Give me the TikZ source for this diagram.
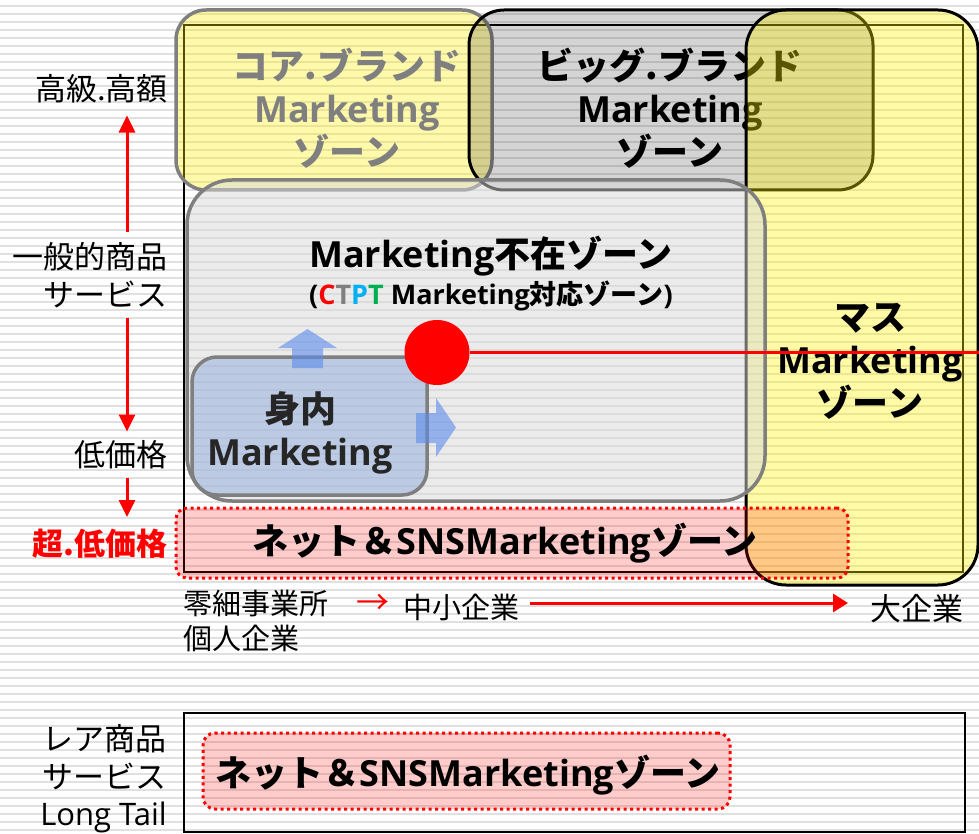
\documentclass[tikz,border=0pt]{standalone}
\usepackage{fontspec}
\setmainfont{Noto Sans CJK JP}
\newfontfamily\lat{Open Sans}
\usetikzlibrary{arrows.meta}
\definecolor{bordergray}{HTML}{7F7F7F}
\definecolor{stripecol}{HTML}{E0E0E0}
\definecolor{ctpblue}{HTML}{00B0F0}
\definecolor{ctpgreen}{HTML}{00B050}
\definecolor{uchiblue}{HTML}{8FAADC}
\definecolor{arrowblue}{HTML}{5B8BEB}
\begin{document}
\begin{tikzpicture}[x=1pt,y=-1pt,
  zone/.style={inner sep=0pt, outer sep=0pt},
  graybox/.style={zone, draw=bordergray, line width=3.5pt},
  blackbox/.style={zone, draw=black, line width=3pt},
  netbox/.style={zone, draw=red, line width=3pt, dash pattern=on 3pt off 3.5pt, fill=red, fill opacity=0.2, rounded corners=11pt},
  title/.style={inner sep=0pt, font=\bfseries\fontsize{36}{43}\selectfont, align=center},
  axislbl/.style={inner sep=0pt, font=\fontsize{31}{38}\selectfont, align=right, anchor=east},
  botlbl/.style={inner sep=0pt, font=\fontsize{29}{35}\selectfont, align=left, anchor=west},
  redarr/.style={draw=red, line width=3pt, -{Triangle[length=17pt,width=16pt]}},
  stripeline/.style={draw=stripecol, line width=2.5pt},
  bluearrow/.style={fill=arrowblue, fill opacity=0.6}
]
\useasboundingbox (0,0) rectangle (979,834);
\fill[white] (0,0) rectangle (979,834);
\foreach \yy in {6,14,...,830} \draw[stripeline] (0,\yy) -- (979,\yy);

% main frame
\node[zone, draw=black, line width=2pt, minimum width=779pt, minimum height=547pt] (frame) at (573.5,298.5) {};

% core brand
\node[graybox, fill=yellow, fill opacity=0.33, rounded corners=30pt, minimum width=316pt, minimum height=180pt] (core) at (334,100) {};
\node[title, text=bordergray] (coretxt) at (347,108) {コア.ブランド\\{\lat Marketing}\\ゾーン};

% big brand
\node[blackbox, fill=black, fill opacity=0.17, rounded corners=35pt, minimum width=404pt, minimum height=180pt] (big) at (671,100) {};
\node[title] (bigtxt) at (670,108) {ビッグ.ブランド\\{\lat Marketing}\\ゾーン};

% mass
\node[blackbox, fill=yellow, fill opacity=0.35, rounded corners=40pt, minimum width=232pt, minimum height=575pt] (mass) at (862,297.5) {};

% absent zone
\node[graybox, fill=black!15, fill opacity=0.5, rounded corners=45pt, minimum width=578pt, minimum height=321pt] (absent) at (476,340.5) {};

% uchi
\node[graybox, fill=uchiblue, fill opacity=0.5, rounded corners=25pt, minimum width=235pt, minimum height=138pt] (uchi) at (309.5,426) {};

% blue arrows
\fill[bluearrow] (292,368) -- (292,348) -- (278,348) -- (307.5,329) -- (337,348) -- (323,348) -- (323,368) -- cycle;
\fill[bluearrow] (416,413) -- (436,413) -- (436,398) -- (456,427.5) -- (436,457) -- (436,443) -- (416,443) -- cycle;

% net zone (main)
\node[netbox, minimum width=672pt, minimum height=70pt] (net) at (512,543) {};

% texts
\node[title] (masstxt) at (870,361) {マス\\{\lat Marketing}\\ゾーン};
\node[title] (absenttxt) at (491,256) {{\lat Marketing}不在ゾーン};
\node[inner sep=0pt, font=\bfseries\fontsize{27}{32}\selectfont] (ctpt) at (491,296)
  {{\lat (\textcolor{red}{C}\textcolor{bordergray}{T}\textcolor{ctpblue}{P}\textcolor{ctpgreen}{T} Marketing}対応ゾーン{\lat )}};
\node[title, text=black!85] (uchitxt) at (300,433) {身内\\{\lat Marketing}};
\node[title] (nettxt) at (505,543) {ネット＆{\lat SNSMarketing}ゾーン};

% red point and line
\node[circle, fill=red, minimum size=65pt, inner sep=0pt] (dot) at (437,352.5) {};
\coordinate (edgeR) at (979,352.5);
\draw[red, line width=3pt] (dot.east) -- (edgeR);

% left axis
\coordinate (axis) at (127,0);
\node[axislbl] (hi) at (168,89) {高級.高額};
\node[axislbl] (gen) at (168,275) {一般的商品\\サービス};
\node[axislbl] (low) at (168,455) {低価格};
\node[axislbl, text=red, font=\bfseries\fontsize{31}{38}\selectfont] (ulow) at (168,544) {超.低価格};
\draw[redarr, shorten <=10pt, shorten >=12pt] (gen.north -| axis) -- (hi.south -| axis);
\draw[redarr, shorten <=10pt, shorten >=9pt] (gen.south -| axis) -- (low.north -| axis);
\draw[redarr, shorten <=9pt, shorten >=12pt] (low.south -| axis) -- (ulow.north -| axis);

% bottom axis
\node[botlbl] (small) at (183,621) {零細事業所\\個人企業};
\node[inner sep=0pt, text=red, font=\fontsize{33}{36}\selectfont] (smallarr) at (373,604) {→};
\node[botlbl] (mid) at (403,607) {中小企業};
\node[botlbl, font=\fontsize{31}{35}\selectfont] (large) at (870,609) {大企業};
\draw[red, line width=3pt, -{Triangle[length=15pt,width=18pt]}, shorten <=11pt, shorten >=22pt] ([yshift=4pt]mid.east) -- ([yshift=6pt]large.west);

% long tail section
\node[zone, draw=black, line width=2.5pt, minimum width=781pt, minimum height=119pt] (lt) at (574.5,772.5) {};
\node[netbox, rounded corners=12pt, minimum width=527pt, minimum height=76pt] (net2) at (466.5,771) {};
\node[title] (net2txt) at (468,775) {ネット＆{\lat SNSMarketing}ゾーン};
\node[axislbl, font=\fontsize{31}{37.5}\selectfont] (rare) at (167,779) {レア商品\\サービス\\{\lat Long Tail}};
\end{tikzpicture}
\end{document}
